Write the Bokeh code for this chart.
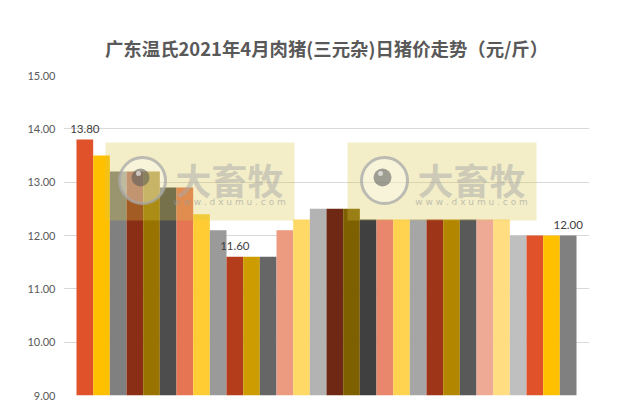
from bokeh.plotting import figure
from bokeh.models import Range1d, FixedTicker, NumeralTickFormatter, ColumnDataSource
from bokeh.core.properties import value
from bokeh.embed import file_html
from bokeh.resources import INLINE

title_text = "广东温氏2021年4月肉猪(三元杂)日猪价走势（元/斤）"
days = list(range(1, 31))
prices = [13.80, 13.50, 13.20, 13.20, 13.20, 12.90, 12.90, 12.40, 12.10, 11.60,
          11.60, 11.60, 12.10, 12.30, 12.50, 12.50, 12.50, 12.30, 12.30, 12.30,
          12.30, 12.30, 12.30, 12.30, 12.30, 12.30, 12.00, 12.00, 12.00, 12.00]
colors = ["#E0532A", "#FFC000", "#808080", "#8B2E16", "#997300", "#4D4D4D",
          "#E57553", "#FFCD33", "#9A9A9A", "#B43D1C", "#CC9C00", "#666666",
          "#EC9A80", "#FFD966", "#B3B3B3", "#6F2813", "#7F6000", "#404040",
          "#E8876B", "#FFD34F", "#A6A6A6", "#9E3519", "#B38600", "#595959",
          "#EFAA95", "#FFDD80", "#BFBFBF", "#E0532A", "#FFC000", "#808080"]
labeled_days = [1, 10, 30]
y_ticks = [9, 10, 11, 12, 13, 14, 15]
y_min, y_max = 9, 15

W, H = 611, 403
FL, FR, FT, FB = 63, 589, 75, 395  # frame edges in figure pixels
pad = 0.78
x0, x1 = -0.5 - pad, len(days) - 0.5 + pad

p = figure(width=W, height=H, output_backend="svg", toolbar_location=None,
           x_range=Range1d(x0, x1), y_range=Range1d(y_min, y_max),
           min_border_left=FL, min_border_right=W - FR,
           min_border_top=FT, min_border_bottom=H - FB)
p.outline_line_color = None
p.background_fill_color = "white"
p.border_fill_color = "white"

p.title.text = title_text
p.title.align = "center"
p.title.text_font = "Noto Sans CJK SC"
p.title.text_font_style = "bold"
p.title.text_font_size = "18.4px"
p.title.text_color = "#595959"
p.title.standoff = 30

p.xaxis.visible = False
p.xgrid.grid_line_color = None
p.yaxis.ticker = FixedTicker(ticks=y_ticks)
p.yaxis.formatter = NumeralTickFormatter(format="0.00")
p.yaxis.axis_line_color = None
p.yaxis.major_tick_line_color = None
p.yaxis.minor_tick_line_color = None
p.yaxis.major_tick_out = 0
p.yaxis.major_tick_in = 0
p.yaxis.major_label_standoff = 8
p.yaxis.major_label_text_font = "Lato"
p.yaxis.major_label_text_font_size = "11px"
p.yaxis.major_label_text_color = "#595959"
p.ygrid.grid_line_color = "#D9D9D9"
p.ygrid.grid_line_width = 1

xs = [i for i in range(len(days))]
src = ColumnDataSource(dict(x=xs, top=prices, color=colors))
p.vbar(x="x", top="top", bottom=y_min, width=1.0, fill_color="color",
       line_color=None, source=src)

lab_x = [d - 1 for d in labeled_days]
lab_y = [prices[d - 1] for d in labeled_days]
lab_t = ["%.2f" % prices[d - 1] for d in labeled_days]
p.text(x=lab_x, y=lab_y, text=lab_t, text_align="center", text_baseline="bottom",
       y_offset=-7, text_font=value("Lato"), text_font_size="11.5px",
       text_color="#404040")

# watermark (decoration), positioned in screen pixels
def px_to_x(px):
    return x0 + (px - FL) / (FR - FL) * (x1 - x0)

def py_to_y(py):
    return y_max - (py - FT) / (FB - FT) * (y_max - y_min)

for left in (105, 347):
    top, bottom, right = 142, 220, left + 189
    p.quad(left=px_to_x(left), right=px_to_x(right), top=py_to_y(top),
           bottom=py_to_y(bottom), fill_color="#D7C846", fill_alpha=0.3,
           line_color=None)
    cx, cy = left + 37, 180
    p.scatter(x=[px_to_x(cx)], y=[py_to_y(cy)], size=46, marker="circle",
              fill_color="white", fill_alpha=0.35, line_color="#A8A8A8",
              line_alpha=0.75, line_width=3)
    p.scatter(x=[px_to_x(cx - 2)], y=[py_to_y(cy - 3)], size=18, marker="circle",
              fill_color="#555555", fill_alpha=0.55, line_color=None)
    p.scatter(x=[px_to_x(cx - 4)], y=[py_to_y(cy - 7)], size=5, marker="circle",
              fill_color="white", fill_alpha=0.6, line_color=None)
    p.text(x=[px_to_x(left + 124)], y=[py_to_y(178)], text=["大畜牧"],
           text_align="center", text_baseline="middle",
           text_font=value("Noto Sans CJK SC"), text_font_style="bold",
           text_font_size="36px", text_color="#A8A8A8", text_alpha=0.5)
    p.text(x=[px_to_x(left + 124)], y=[py_to_y(201)], text=["w w w . d x u m u . c o m"],
           text_align="center", text_baseline="middle",
           text_font=value("DejaVu Sans"), text_font_size="9px",
           text_color="#9A9A9A", text_alpha=0.6)

open("out.html", "w").write(file_html(p, INLINE))
